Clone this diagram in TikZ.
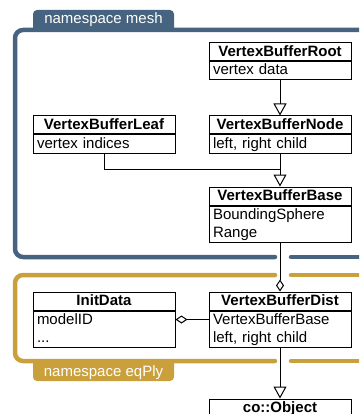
\documentclass[tikz,border=0pt]{standalone}
\usepackage{fontspec}
\setmainfont{Liberation Sans}
\usetikzlibrary{positioning,arrows.meta}
\definecolor{meshblue}{RGB}{70,99,128}
\definecolor{plygold}{RGB}{201,160,60}
\newcommand{\rowstrut}{\rule[-4.5pt]{0pt}{17pt}}

\begin{document}
\begin{tikzpicture}[
		x=1pt, y=-1pt,
		font=\fontsize{15}{18}\selectfont,
		classhead/.style={draw, line width=1pt, fill=white, minimum width=142pt, inner xsep=2pt, inner ysep=0.5pt, text height=13pt, text depth=4pt, font=\fontsize{15}{18}\selectfont\bfseries},
		classattr/.style={draw, line width=1pt, fill=white, text width=134pt, inner xsep=4pt, inner ysep=0.5pt, align=left},
		inherit/.style={line width=1pt, -{Triangle[open, length=12pt, width=13pt]}},
		aggregate/.style={line width=1pt, -{Diamond[open, length=12pt, width=8pt]}},
		frame/.style={line width=4.5pt, line cap=round, rounded corners=8pt},
		tablabel/.style={text=white, inner sep=0pt, text height=11pt, text depth=3pt},
	]

	\useasboundingbox (0,0) rectangle (359,414);
	\clip (0,0) rectangle (359,414);

	% namespace frames
	\begin{scope}
		\clip (0,0) rectangle (359,30);
		\fill[meshblue, rounded corners=4pt] (33,10) rectangle (174,45);
	\end{scope}
	\node[tablabel] (meshlbl) at (103.5,20) {namespace mesh};
	\draw[frame, draw=meshblue] (275,257) -- (15,257) -- (15,30) -- (400,30);
	\draw[frame, draw=meshblue] (291,257) -- (400,257);

	\begin{scope}
		\clip (0,361) rectangle (359,414);
		\fill[plygold, rounded corners=4pt] (33,345) rectangle (174,381);
	\end{scope}
	\node[tablabel] (plylbl) at (103.5,372) {namespace eqPly};
	\draw[frame, draw=plygold] (275,275) -- (15,275) -- (15,361) -- (275,361);
	\draw[frame, draw=plygold] (291,275) -- (400,275);
	\draw[frame, draw=plygold] (291,361) -- (400,361);

	% classes
	\node[classhead] (root)   at (280,52)  {VertexBufferRoot};
	\node[classattr] (rootattr) [below=0pt of root] {\rowstrut vertex data};

	\node[classhead] (node)   at (280,125) {VertexBufferNode};
	\node[classattr] (nodeattr) [below=0pt of node] {\rowstrut left, right child};

	\node[classhead] (leaf)   at (104,125) {VertexBufferLeaf};
	\node[classattr] (leafattr) [below=0pt of leaf] {\rowstrut vertex indices};

	\node[classhead] (base)   at (280,196) {VertexBufferBase};
	\node[classattr] (baseattr) [below=0pt of base] {\rowstrut BoundingSphere\\\rowstrut Range};

	\node[classhead] (dist)   at (280,301) {VertexBufferDist};
	\node[classattr] (distattr) [below=0pt of dist] {\rowstrut VertexBufferBase\\\rowstrut left, right child};

	\node[classhead] (init)   at (104,301) {InitData};
	\node[classattr] (initattr) [below=0pt of init] {\rowstrut modelID\\\rowstrut ...};

	\node[classhead] (object) at (280,408) {co::Object};

	% relations
	\coordinate (merge) at (280,169);
	\draw[inherit] (rootattr) -- (node);
	\draw[inherit] (nodeattr) -- (base);
	\draw[line width=1pt] (leafattr.south) |- (merge);
	\draw[aggregate] (baseattr) -- (dist);
	\draw[aggregate] ([yshift=-9pt]distattr.north west) -- ([yshift=-9pt]initattr.north east);
	\draw[inherit] (distattr) -- (object);

\end{tikzpicture}
\end{document}
